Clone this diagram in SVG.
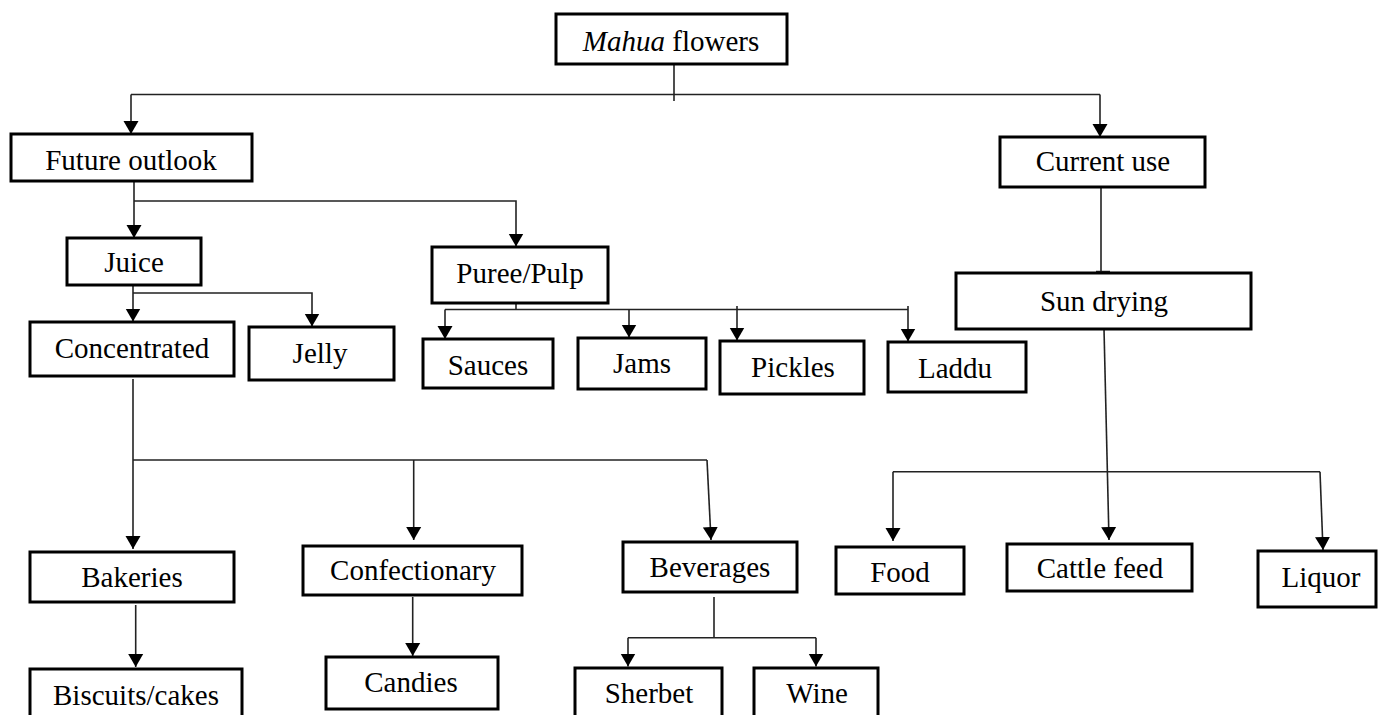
<svg xmlns="http://www.w3.org/2000/svg" width="1378" height="715" viewBox="0 0 1378 715">
<style>
.box{fill:#fff;stroke:#000;stroke-width:3}
.t{font-family:"Liberation Serif","Times New Roman",serif;font-size:29px;fill:#000;text-anchor:middle}
.c{fill:none;stroke:#222;stroke-width:1.6}
.a{fill:none;stroke:#222;stroke-width:1.6;marker-end:url(#arr)}
</style>
<defs>
<marker id="arr" markerUnits="userSpaceOnUse" markerWidth="18" markerHeight="18" refX="13" refY="8" orient="auto">
<path d="M0,0.5 L13,8 L0,15.5 z" fill="#000"/>
</marker>
</defs>
<rect width="1378" height="715" fill="#fff"/>
<g id="connectors">
<path class="c" d="M674,64 V101"/>
<path class="c" d="M131,94.5 H1100"/>
<path class="a" d="M131,94.5 V134"/>
<path class="a" d="M1100,94.5 V137"/>
<path class="a" d="M134,175 V238"/>
<path class="a" d="M134,201 H516 V246.5"/>
<path class="a" d="M133,279 V321.5"/>
<path class="a" d="M133,293 H312 V326.5"/>
<path class="c" d="M516,297 V309.5"/>
<path class="c" d="M445,309.5 H908"/>
<path class="a" d="M445,309.5 V339"/>
<path class="a" d="M629,309.5 V337.5"/>
<path class="a" d="M737,306 V340.5"/>
<path class="a" d="M908,306 V341.5"/>
<path class="c" d="M1101,187 V273"/>
<path d="M1096,272 H1110" stroke="#222" stroke-width="2.5" fill="none"/>
<path class="a" d="M133,379 V549"/>
<path class="c" d="M133,460 H707"/>
<path class="a" d="M413.7,460 V540"/>
<path class="a" d="M707,460 L711,540"/>
<path class="a" d="M135.7,605 V667"/>
<path class="a" d="M412.7,597 V656"/>
<path class="c" d="M714,597 V637.7"/>
<path class="c" d="M628,637.7 H816"/>
<path class="a" d="M628,637.7 V666.5"/>
<path class="a" d="M816,637.7 V666.5"/>
<path class="a" d="M1104,329 L1109,540"/>
<path class="c" d="M893,471.7 H1320"/>
<path class="a" d="M893,471.7 V541"/>
<path class="a" d="M1320,471.7 L1323,550"/>
</g>
<g id="n-mahua"><rect class="box" x="556" y="14" width="231" height="50"/><text class="t" x="671" y="51"><tspan font-style="italic">Mahua</tspan> flowers</text></g>
<g id="n-future"><rect class="box" x="11" y="134" width="241" height="47"/><text class="t" x="131" y="170">Future outlook</text></g>
<g id="n-current"><rect class="box" x="1000" y="137" width="205" height="50"/><text class="t" x="1103" y="171">Current use</text></g>
<g id="n-sun"><rect class="box" x="956" y="273" width="295" height="56"/><text class="t" x="1104" y="311">Sun drying</text></g>
<g id="n-juice"><rect class="box" x="67" y="238" width="134" height="47"/><text class="t" x="134" y="272">Juice</text></g>
<g id="n-puree"><rect class="box" x="432" y="247" width="176" height="56"/><text class="t" x="520" y="283">Puree/Pulp</text></g>
<g id="n-conc"><rect class="box" x="30" y="322" width="204" height="54"/><text class="t" x="132" y="358">Concentrated</text></g>
<g id="n-jelly"><rect class="box" x="249" y="327" width="145" height="53"/><text class="t" x="320" y="363">Jelly</text></g>
<g id="n-sauces"><rect class="box" x="423" y="339" width="130" height="49"/><text class="t" x="488" y="375">Sauces</text></g>
<g id="n-jams"><rect class="box" x="578" y="338" width="128" height="51"/><text class="t" x="642" y="373">Jams</text></g>
<g id="n-pickles"><rect class="box" x="720" y="341" width="144" height="53"/><text class="t" x="793" y="377">Pickles</text></g>
<g id="n-laddu"><rect class="box" x="888" y="342" width="138" height="50"/><text class="t" x="955" y="378">Laddu</text></g>
<g id="n-bakeries"><rect class="box" x="30" y="552" width="204" height="50"/><text class="t" x="132" y="587">Bakeries</text></g>
<g id="n-confec"><rect class="box" x="303" y="546" width="219" height="49"/><text class="t" x="413" y="580">Confectionary</text></g>
<g id="n-bev"><rect class="box" x="623" y="542" width="174" height="50"/><text class="t" x="710" y="577">Beverages</text></g>
<g id="n-food"><rect class="box" x="836" y="547" width="128" height="47"/><text class="t" x="900" y="582">Food</text></g>
<g id="n-cattle"><rect class="box" x="1007" y="544" width="185" height="47"/><text class="t" x="1100" y="578">Cattle feed</text></g>
<g id="n-liquor"><rect class="box" x="1258" y="551" width="118" height="56"/><text class="t" x="1321" y="587">Liquor</text></g>
<g id="n-biscuits"><rect class="box" x="30" y="669" width="212" height="60"/><text class="t" x="136" y="705">Biscuits/cakes</text></g>
<g id="n-candies"><rect class="box" x="326" y="657" width="172" height="52"/><text class="t" x="411" y="692">Candies</text></g>
<g id="n-sherbet"><rect class="box" x="575" y="668" width="147" height="60"/><text class="t" x="649" y="703">Sherbet</text></g>
<g id="n-wine"><rect class="box" x="754" y="668" width="124" height="60"/><text class="t" x="817" y="703">Wine</text></g>
</svg>
